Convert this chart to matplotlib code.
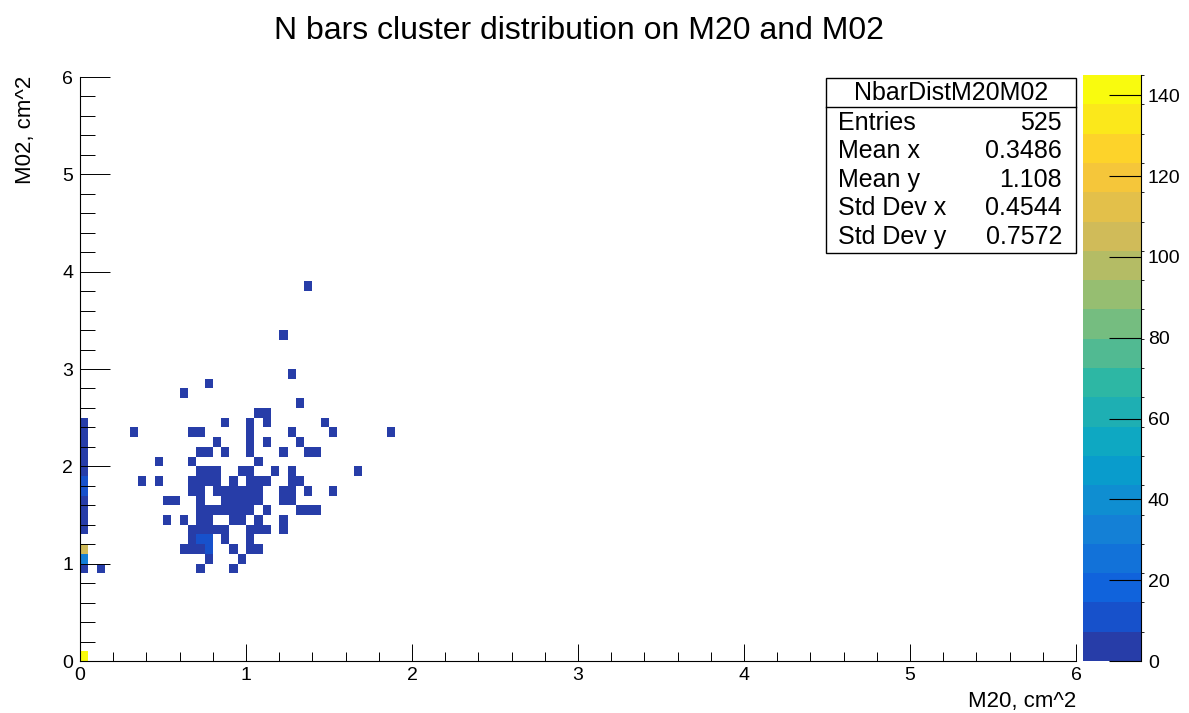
import numpy as np
import matplotlib
matplotlib.use("Agg")
import matplotlib.pyplot as plt
from matplotlib.colors import LinearSegmentedColormap, ListedColormap, BoundaryNorm
from matplotlib.patches import Rectangle
from matplotlib.ticker import MultipleLocator

plt.rcParams['font.family'] = ['Liberation Sans', 'DejaVu Sans']

# bin centres (M20, M02) and bin contents, grouped by M02 row
m20 = [0.025,
       0.025, 0.125, 0.725, 0.925,
       0.025, 0.775, 0.975,
       0.025, 0.625, 0.675, 0.725, 0.775, 0.925, 1.025, 1.075,
       0.675, 0.725, 0.775, 0.875, 1.025,
       0.025, 0.675, 0.725, 0.775, 0.825, 0.875, 1.025, 1.075, 1.125, 1.225,
       0.025, 0.525, 0.625, 0.725, 0.775, 0.925, 0.975, 1.075, 1.225,
       0.025, 0.725, 0.775, 0.825, 0.875, 0.925, 0.975, 1.025, 1.125, 1.325, 1.375, 1.425,
       0.025, 0.525, 0.575, 0.725, 0.875, 0.925, 0.975, 1.025, 1.075, 1.225, 1.275,
       0.025, 0.675, 0.725, 0.825, 0.875, 0.925, 0.975, 1.025, 1.075, 1.225, 1.275, 1.375, 1.525,
       0.025, 0.375, 0.475, 0.675, 0.725, 0.775, 0.825, 0.925, 1.025, 1.075, 1.125, 1.275, 1.325,
       0.025, 0.725, 0.775, 0.825, 0.975, 1.025, 1.175, 1.275, 1.675,
       0.025, 0.475, 0.675, 1.075,
       0.025, 0.725, 0.775, 0.875, 1.025, 1.225, 1.375, 1.425,
       0.025, 0.825, 1.025, 1.125, 1.325,
       0.025, 0.325, 0.675, 0.725, 1.025, 1.275, 1.525, 1.875,
       0.025, 0.875, 1.025, 1.125, 1.475,
       1.075, 1.125,
       1.325,
       0.625,
       0.775,
       1.275,
       1.225,
       1.375]
m02 = [0.05,
       0.95, 0.95, 0.95, 0.95,
       1.05, 1.05, 1.05,
       1.15, 1.15, 1.15, 1.15, 1.15, 1.15, 1.15, 1.15,
       1.25, 1.25, 1.25, 1.25, 1.25,
       1.35, 1.35, 1.35, 1.35, 1.35, 1.35, 1.35, 1.35, 1.35, 1.35,
       1.45, 1.45, 1.45, 1.45, 1.45, 1.45, 1.45, 1.45, 1.45,
       1.55, 1.55, 1.55, 1.55, 1.55, 1.55, 1.55, 1.55, 1.55, 1.55, 1.55, 1.55,
       1.65, 1.65, 1.65, 1.65, 1.65, 1.65, 1.65, 1.65, 1.65, 1.65, 1.65,
       1.75, 1.75, 1.75, 1.75, 1.75, 1.75, 1.75, 1.75, 1.75, 1.75, 1.75, 1.75, 1.75,
       1.85, 1.85, 1.85, 1.85, 1.85, 1.85, 1.85, 1.85, 1.85, 1.85, 1.85, 1.85, 1.85,
       1.95, 1.95, 1.95, 1.95, 1.95, 1.95, 1.95, 1.95, 1.95,
       2.05, 2.05, 2.05, 2.05,
       2.15, 2.15, 2.15, 2.15, 2.15, 2.15, 2.15, 2.15,
       2.25, 2.25, 2.25, 2.25, 2.25,
       2.35, 2.35, 2.35, 2.35, 2.35, 2.35, 2.35, 2.35,
       2.45, 2.45, 2.45, 2.45, 2.45,
       2.55, 2.55,
       2.65,
       2.75,
       2.85,
       2.95,
       3.35,
       3.85]
counts = [145,
          2, 1, 1, 1,
          36, 1, 1,
          105, 1, 2, 2, 10, 1, 2, 1,
          2, 10, 10, 1, 1,
          3, 2, 2, 2, 2, 1, 2, 1, 1, 1,
          3, 1, 1, 2, 2, 2, 1, 1, 1,
          3, 2, 2, 2, 2, 2, 2, 2, 1, 1, 1, 1,
          3, 1, 1, 2, 2, 2, 2, 2, 2, 1, 1,
          10, 1, 2, 1, 2, 2, 2, 2, 1, 1, 1, 1, 1,
          10, 1, 1, 1, 2, 2, 1, 1, 2, 1, 1, 1, 1,
          3, 1, 1, 1, 1, 1, 1, 1, 1,
          3, 1, 1, 1,
          3, 1, 1, 1, 1, 1, 1, 1,
          3, 1, 1, 1, 1,
          3, 1, 1, 1, 1, 1, 1, 1,
          3, 1, 1, 1, 1,
          1, 1,
          1,
          1,
          1,
          1,
          1,
          1]

stat_names = ['Entries', 'Mean x', 'Mean y', 'Std Dev x', 'Std Dev y']
stat_values = ['525', '0.3486', '1.108', '0.4544', '0.7572']
cbar_ticks = [0, 20, 40, 60, 80, 100, 120, 140]

# ROOT kBird palette
bird_r = [0.2082, 0.0592, 0.0780, 0.0232, 0.1802, 0.5301, 0.8186, 0.9956, 0.9764]
bird_g = [0.1664, 0.3599, 0.5041, 0.6419, 0.7178, 0.7492, 0.7328, 0.7862, 0.9832]
bird_b = [0.5293, 0.8684, 0.8385, 0.7914, 0.6425, 0.4662, 0.3499, 0.1968, 0.0539]
bird = LinearSegmentedColormap.from_list(
    'bird', list(zip(np.linspace(0, 1, 9), zip(bird_r, bird_g, bird_b))))
nlev = 20
zmax = 145
cmap = ListedColormap([bird((k + 0.99) / nlev) for k in range(nlev)])
norm = BoundaryNorm(np.linspace(0, zmax, nlev + 1), nlev)

fig = plt.figure(figsize=(11.89, 7.13), dpi=100)
W, H = 1189, 713
ax = fig.add_axes([80 / W, 1 - 661 / H, 996 / W, 584 / H])

h = ax.hist2d(m20, m02, bins=[120, 60], range=[[0, 6], [0, 6]],
              weights=counts, cmap=cmap, norm=norm, cmin=0.5)

ax.set_xlim(0, 6)
ax.set_ylim(0, 6)
for s in ['top', 'right']:
    ax.spines[s].set_visible(False)
for s in ['left', 'bottom']:
    ax.spines[s].set_linewidth(0.8)
ax.xaxis.set_major_locator(MultipleLocator(1))
ax.xaxis.set_minor_locator(MultipleLocator(0.2))
ax.yaxis.set_major_locator(MultipleLocator(1))
ax.yaxis.set_minor_locator(MultipleLocator(0.2))
ax.tick_params(axis='x', which='major', direction='in', length=12.6, width=0.7,
               labelsize=14, pad=4)
ax.tick_params(axis='x', which='minor', direction='in', length=6.3, width=0.7)
ax.tick_params(axis='y', which='major', direction='in', length=21.6, width=0.7,
               labelsize=14, pad=5)
ax.tick_params(axis='y', which='minor', direction='in', length=10.8, width=0.7)

fig.text(1076 / W, 1 - 701 / H, 'M20, cm^2', ha='right', va='center',
         fontsize=16)
fig.text(26 / W, 1 - 76 / H, 'M02, cm^2', ha='center', va='top',
         rotation=90, fontsize=16)
fig.text(579.5 / W, 1 - 31 / H, 'N bars cluster distribution on M20 and M02',
         ha='center', va='center', fontsize=23)

# palette
cax = fig.add_axes([1083 / W, 1 - 661 / H, 58 / W, 586 / H])
cb = fig.colorbar(h[3], cax=cax, ticks=cbar_ticks)
cb.outline.set_visible(False)
cax.tick_params(axis='y', direction='in', length=23, width=0.8, labelsize=14,
                pad=5, colors='black')
cax.plot([1, 1], [0, 1], transform=cax.transAxes, color='black', lw=0.8,
         clip_on=False)

# stats box
x0, x1 = 826 / W, 1076 / W
y0, y1 = 1 - 253 / H, 1 - 78 / H
fig.patches.append(Rectangle((x0, y0), x1 - x0, y1 - y0, transform=fig.transFigure,
                             facecolor='white', edgecolor='black', lw=1))
ysep = 1 - 107 / H
fig.lines.append(plt.Line2D([x0, x1], [ysep, ysep], transform=fig.transFigure,
                            color='black', lw=1))
fig.text((x0 + x1) / 2, 1 - 93 / H, 'NbarDistM20M02', ha='center', va='center',
         fontsize=18)
for k, (name, val) in enumerate(zip(stat_names, stat_values)):
    yy = 1 - (123 + 28.4 * k) / H
    fig.text(838 / W, yy, name, ha='left', va='center', fontsize=18)
    fig.text(1062 / W, yy, val, ha='right', va='center', fontsize=18)

fig.savefig('out.png', dpi=100)
